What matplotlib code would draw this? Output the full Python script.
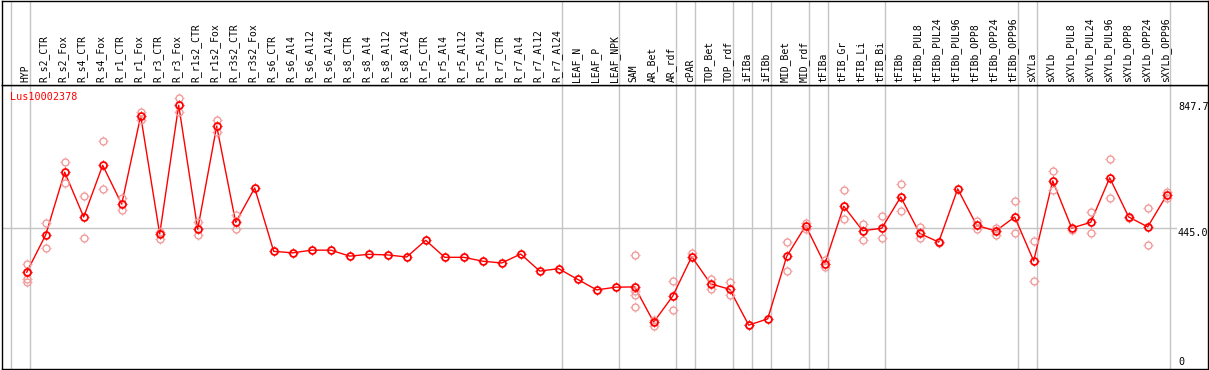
import matplotlib

matplotlib.use("Agg")
import matplotlib.pyplot as plt
from matplotlib.path import Path
from matplotlib.transforms import ScaledTranslation, blended_transform_factory

gene_id = "Lus10002378"

categories = [
    "HYP", "R_s2_CTR", "R_s2_Fox", "R_s4_CTR", "R_s4_Fox", "R_r1_CTR", "R_r1_Fox",
    "R_r3_CTR", "R_r3_Fox", "R_r1s2_CTR", "R_r1s2_Fox", "R_r3s2_CTR", "R_r3s2_Fox",
    "R_s6_CTR", "R_s6_Al4", "R_s6_Al12", "R_s6_Al24", "R_s8_CTR", "R_s8_Al4",
    "R_s8_Al12", "R_s8_Al24", "R_r5_CTR", "R_r5_Al4", "R_r5_Al12", "R_r5_Al24",
    "R_r7_CTR", "R_r7_Al4", "R_r7_Al12", "R_r7_Al24", "LEAF_N", "LEAF_P", "LEAF_NPK",
    "SAM", "AR_Bet", "AR_rdf", "cPAR", "TOP_Bet", "TOP_rdf", "iFIBa", "iFIBb",
    "MID_Bet", "MID_rdf", "tFIBa", "tFIB_Gr", "tFIB_Li", "tFIB_Bi", "tFIBb",
    "tFIBb_PUL8", "tFIBb_PUL24", "tFIBb_PUL96", "tFIBb_OPP8", "tFIBb_OPP24",
    "tFIBb_OPP96", "sXYLa", "sXYLb", "sXYLb_PUL8", "sXYLb_PUL24", "sXYLb_PUL96",
    "sXYLb_OPP8", "sXYLb_OPP24", "sXYLb_OPP96",
]

mean_values = [
    297, 422, 632, 482, 655, 525, 820, 425, 856, 441, 786, 464, 579,
    367, 362, 371, 371, 351, 357, 355, 348, 404, 347, 347, 334, 328, 358, 301, 309, 273,
    238, 247, 248, 130, 217, 349, 258, 240, 120, 141,
    350, 453, 324, 518, 436, 444, 549, 427, 398, 576,
    454, 435, 482, 335, 603, 445, 464, 613, 482, 449, 555,
]

replicates = [
    [326, 297, 274, 264], [461, 379], [665, 595], [551, 411], [735, 575],
    [545, 504], [833, 807], [433, 409], [880, 832], [464, 421], [807, 766],
    [489, 441], [],
    [], [], [], [], [], [], [], [], [], [], [], [], [], [], [], [], [], [], [],
    [355, 234, 221, 181], [137, 117], [268, 171], [361], [273, 241], [264, 220],
    [120], [],
    [399, 300], [463, 442], [338, 316], [571, 474], [459, 404], [485, 412],
    [591, 502], [448, 411], [394], [],
    [470, 443], [444, 422], [536, 427], [401, 267], [636, 571], [438],
    [498, 427], [675, 546], [479], [512, 387], [566, 545],
]

# a separator is drawn just right of these category indices
group_ends = [-1, 0, 28, 31, 34, 35, 37, 38, 39, 41, 42, 45, 52, 53, 60]

ytick_values = [847.7, 445.0, 0]
ytick_shift_px = [1.0, -4.7, -1.3]

RED = "#ff0000"
PINK = "#f29a9a"
GRID = "#c4c4c4"
MONO = "DejaVu Sans Mono"

W, H = 1209, 370


def tick_marker(inner=1.0, outer=1.45):
    ticks = [
        Path([(0, inner), (0, outer)]),
        Path([(0, -inner), (0, -outer)]),
        Path([(inner, 0), (outer, 0)]),
        Path([(-inner, 0), (-outer, 0)]),
    ]
    return Path.make_compound_path(*ticks)


def draw_points(ax, x, y, color, mew):
    ax.plot(x, y, ls="none", marker="o", ms=5.0, mfc="none", mec=color, mew=mew, zorder=4)
    ax.plot(x, y, ls="none", marker=tick_marker(), ms=7.4, mfc="none", mec=color, mew=0.8, zorder=4)


fig = plt.figure(figsize=(W / 100, H / 100), dpi=100)
left, right = 1.5, 1207.5
top_label, sep, bottom = 0.5, 85.0, 369.3
ax = fig.add_axes([left / W, (H - bottom) / H, (right - left) / W, (bottom - sep) / H])
ax_lab = fig.add_axes([left / W, (H - sep) / H, (right - left) / W, (sep - top_label) / H], sharex=ax)

x0, step = 26.7, 19.0
ax.set_xlim((left - x0) / step, (right - x0) / step)
ax.set_ylim(-27.8, 923.7)
ax_lab.set_ylim(0, 1)

for a in (ax, ax_lab):
    a.set_xticks([])
    a.set_yticks([])
    for s in a.spines.values():
        s.set_linewidth(1.0)
        s.set_color("black")
    for g in group_ends:
        a.axvline(g + 0.19, color=GRID, lw=1.0, zorder=0)

ax.axhline(ytick_values[1], xmin=0, xmax=(1176 - left) / (right - left), color=GRID, lw=1.0, zorder=0)

xs = list(range(len(categories)))
for i, reps in enumerate(replicates):
    if reps:
        draw_points(ax, [i] * len(reps), reps, PINK, 1.0)
ax.plot(xs, mean_values, color=RED, lw=1.0, zorder=3)
draw_points(ax, xs, mean_values, RED, 1.3)

for i, name in enumerate(categories):
    ax_lab.text(i - 0.08, 0.03, name, rotation=90, ha="center", va="bottom",
                fontsize=7, family=MONO, color="black")

ax.text((10 - left) / (right - left), 1 - 12 / (bottom - sep), gene_id, transform=ax.transAxes,
        ha="left", va="center", fontsize=7.3, family=MONO, color=RED)

tr = blended_transform_factory(ax.transAxes, ax.transData)
for v, dy in zip(ytick_values, ytick_shift_px):
    label = "0" if v == 0 else f"{v:.1f}"
    off = ScaledTranslation(0, dy / 100, fig.dpi_scale_trans)
    ax.text((1178 - left) / (right - left), v, label, transform=tr + off, ha="left", va="center",
            fontsize=7.3, family=MONO, color="black", clip_on=False)

fig.savefig("out.png", dpi=100)
